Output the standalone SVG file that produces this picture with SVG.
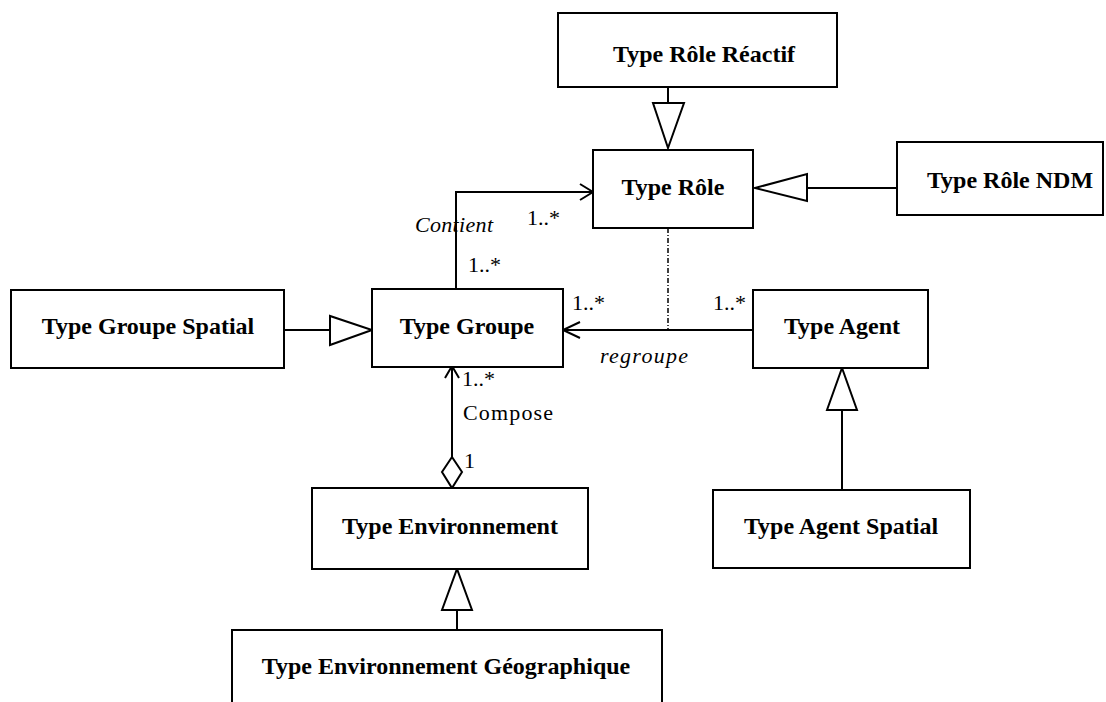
<svg xmlns="http://www.w3.org/2000/svg" width="1106" height="702" viewBox="0 0 1106 702">
<style>
.box{fill:#fff;stroke:#000;stroke-width:2}
.lbl{font-family:"Liberation Serif","Times New Roman",serif;font-weight:bold;font-size:24px;fill:#000;text-anchor:middle}
.ln{fill:none;stroke:#000;stroke-width:2}
.tri{fill:#fff;stroke:#000;stroke-width:2}
.m{font-family:"Liberation Serif","Times New Roman",serif;font-size:22px;fill:#000}
.it{font-family:"Liberation Serif","Times New Roman",serif;font-style:italic;font-size:22px;fill:#000}
</style>
<rect width="1106" height="702" fill="#fff"/>
<g id="connectors">
<line class="ln" x1="668" y1="87" x2="668" y2="103"/>
<polygon class="tri" points="653,103 684,103 668,148"/>
<line class="ln" x1="807" y1="188" x2="897" y2="188"/>
<polygon class="tri" points="807,174 807,201 755,188"/>
<polyline class="ln" points="456,289 456,192 593,192"/>
<polyline class="ln" points="580,184 593,192 580,200"/>
<line class="ln" x1="284" y1="330" x2="330" y2="330"/>
<polygon class="tri" points="330,316 330,345 372,330"/>
<line class="ln" x1="563" y1="330" x2="753" y2="330"/>
<polyline class="ln" points="580,322 563,330 580,338"/>
<line x1="668" y1="228" x2="668" y2="330" stroke="#000" stroke-width="1.5" stroke-dasharray="5,2,1,2"/>
<line class="ln" x1="842" y1="410" x2="842" y2="490"/>
<polygon class="tri" points="827,410 857,410 842,368"/>
<line class="ln" x1="452" y1="366" x2="452" y2="457"/>
<polyline class="ln" points="445,378 452,366 459,378"/>
<polygon class="tri" points="452,457 462,472 452,488 442,472"/>
<line class="ln" x1="457" y1="610" x2="457" y2="630"/>
<polygon class="tri" points="442,610 472,610 457,569"/>
</g>
<g id="labels">
<text class="it" x="415" y="232" textLength="78">Contient</text>
<text class="m" x="527" y="225">1..*</text>
<text class="m" x="468" y="272">1..*</text>
<text class="m" x="572" y="310">1..*</text>
<text class="m" x="713" y="310">1..*</text>
<text class="it" x="600" y="363" textLength="88">regroupe</text>
<text class="m" x="462" y="386">1..*</text>
<text class="m" x="463" y="420" textLength="90">Compose</text>
<text class="m" x="464" y="468">1</text>
</g>
<g id="type-role-reactif">
<rect class="box" x="558" y="13" width="279" height="74"/>
<text class="lbl" x="704" y="62">Type Rôle Réactif</text>
</g>
<g id="type-role">
<rect class="box" x="593" y="150" width="160" height="78"/>
<text class="lbl" x="673" y="195">Type Rôle</text>
</g>
<g id="type-role-ndm">
<rect class="box" x="897" y="142" width="206" height="73"/>
<text class="lbl" x="1010" y="188">Type Rôle NDM</text>
</g>
<g id="type-groupe-spatial">
<rect class="box" x="11" y="290" width="273" height="78"/>
<text class="lbl" x="148" y="334">Type Groupe Spatial</text>
</g>
<g id="type-groupe">
<rect class="box" x="372" y="289" width="191" height="78"/>
<text class="lbl" x="467" y="334">Type Groupe</text>
</g>
<g id="type-agent">
<rect class="box" x="753" y="290" width="175" height="78"/>
<text class="lbl" x="842" y="334">Type Agent</text>
</g>
<g id="type-agent-spatial">
<rect class="box" x="713" y="490" width="257" height="78"/>
<text class="lbl" x="841" y="534">Type Agent Spatial</text>
</g>
<g id="type-environnement">
<rect class="box" x="312" y="488" width="276" height="81"/>
<text class="lbl" x="450" y="534">Type Environnement</text>
</g>
<g id="type-environnement-geographique">
<rect class="box" x="232" y="630" width="430" height="80"/>
<text class="lbl" x="446" y="674">Type Environnement Géographique</text>
</g>
</svg>
